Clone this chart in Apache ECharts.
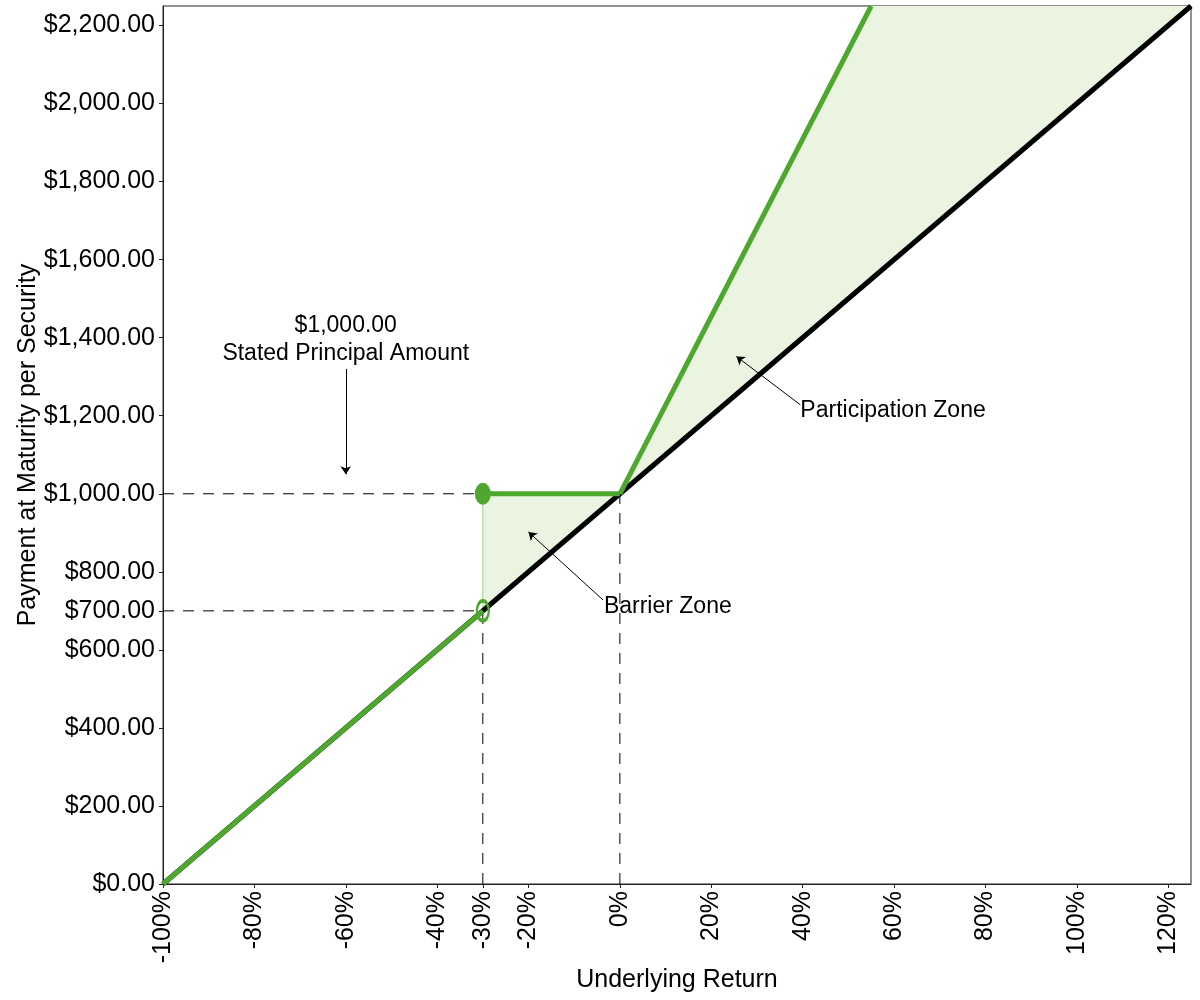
<!DOCTYPE html>
<html>
<head>
    <meta charset="utf-8">
    <title>Payment at Maturity</title>
    <script src="https://cdn.jsdelivr.net/npm/echarts@6/dist/echarts.min.js"></script>
    <style>
        html, body { margin: 0; padding: 0; background: #fff; }
        #container { width: 1200px; height: 1000px; }
    </style>
</head>
<body>
<div id="container"></div>
<script>
    // tick labels
    var xTicks = [-100, -80, -60, -40, -30, -20, 0, 20, 40, 60, 80, 100, 120];
    var yTicks = [0, 200, 400, 600, 700, 800, 1000, 1200, 1400, 1600, 1800, 2000, 2200];

    // underlying (1:1) line
    var underlyingX = [-100, 125];
    var underlyingY = [0, 2250];

    // security payoff pieces
    var downX = [-100, -30];
    var downY = [0, 700];
    var flatX = [-30, 0];
    var flatY = [1000, 1000];
    var upX = [0, 55];
    var upY = [1000, 2250];

    // shaded zones (polygons between payoff and underlying)
    var barrierZoneX = [-30, 0, -30];
    var barrierZoneY = [1000, 1000, 700];
    var partZoneX = [0, 55, 125];
    var partZoneY = [1000, 2250, 2250];

    var green = '#4EA72E';
    var fill = '#EBF3E1';
    var font = 'Liberation Sans, Arial, sans-serif';

    function pairs(xs, ys) {
        var out = [];
        for (var i = 0; i < xs.length; i++) out.push([xs[i], ys[i]]);
        return out;
    }

    var dashed = { type: [11, 9], color: '#000', width: 1 };

    function dashSeries(data) {
        return {
            type: 'line', data: data, showSymbol: false, silent: true, z: 1,
            lineStyle: dashed
        };
    }

    function zoneSeries(xs, ys) {
        return {
            type: 'custom', silent: true, z: 0,
            data: [0],
            renderItem: function (params, api) {
                var pts = pairs(xs, ys).map(function (p) { return api.coord(p); });
                return {
                    type: 'polygon',
                    shape: { points: pts },
                    style: { fill: fill }
                };
            }
        };
    }

    var myChart = echarts.init(document.getElementById('container'));

    var option = {
        animation: false,
        grid: {
            left: 163, right: 9, top: 6, bottom: 116, outerBoundsMode: 'none',
            show: true, borderColor: '#222', borderWidth: 1
        },
        xAxis: {
            type: 'value', min: -100, max: 125,
            name: 'Underlying Return', nameLocation: 'middle', nameGap: 84, nameMoveOverlap: false,
            nameTextStyle: { fontSize: 25, color: '#000', fontFamily: font },
            splitLine: { show: false },
            axisLine: { show: true, onZero: false, lineStyle: { color: '#222' } },
            axisTick: { show: true, customValues: xTicks, length: 4, lineStyle: { color: '#222' } },
            axisLabel: {
                customValues: xTicks, rotate: 90, fontSize: 25, color: '#000', fontFamily: font, margin: 7,
                formatter: function (v) { return v + '%'; }
            }
        },
        yAxis: {
            type: 'value', min: 0, max: 2250,
            name: 'Payment at Maturity per Security', nameLocation: 'middle', nameGap: 122, nameMoveOverlap: false,
            nameTextStyle: { fontSize: 25, color: '#000', fontFamily: font },
            splitLine: { show: false },
            axisLine: { show: true, onZero: false, lineStyle: { color: '#222' } },
            axisTick: { show: true, customValues: yTicks, length: 4, lineStyle: { color: '#222' } },
            axisLabel: {
                customValues: yTicks, fontSize: 25, color: '#000', fontFamily: font, margin: 8,
                formatter: function (v) {
                    return '$' + v.toLocaleString('en-US', { minimumFractionDigits: 2, maximumFractionDigits: 2 });
                }
            }
        },
        series: [
            // shaded zones
            zoneSeries(barrierZoneX, barrierZoneY),
            zoneSeries(partZoneX, partZoneY),
            // dashed guides
            dashSeries([[-100, 1000], [-30, 1000]]),
            dashSeries([[-100, 700], [-30, 700]]),
            dashSeries([[-30, 0], [-30, 700]]),
            dashSeries([[0, 0], [0, 1000]]),
            // thin barrier edge
            {
                type: 'line', data: [[-30, 700], [-30, 1000]], showSymbol: false, silent: true, z: 2,
                lineStyle: { color: '#A9D18E', width: 1 }
            },
            // underlying
            {
                type: 'line', data: pairs(underlyingX, underlyingY), showSymbol: false, z: 3,
                lineStyle: { color: '#000', width: 5 }
            },
            // payoff
            {
                type: 'line', data: pairs(downX, downY), showSymbol: false, z: 4,
                lineStyle: { color: green, width: 5 }
            },
            {
                type: 'line', data: pairs(flatX, flatY), showSymbol: false, z: 4,
                lineStyle: { color: green, width: 5 }
            },
            {
                type: 'line', data: pairs(upX, upY), showSymbol: false, z: 4,
                lineStyle: { color: green, width: 5 }
            },
            // barrier markers
            {
                type: 'scatter', data: [[flatX[0], flatY[0]]], z: 5,
                symbol: 'circle', symbolSize: [16, 22], itemStyle: { color: green, opacity: 1 }
            },
            {
                type: 'scatter', data: [[downX[1], downY[1]]], z: 5,
                symbol: 'circle', symbolSize: [12, 20],
                itemStyle: { color: 'rgba(0,0,0,0)', borderColor: green, borderWidth: 3, opacity: 1 }
            },
            // annotations
            {
                type: 'line', data: [], z: 6, silent: true,
                markLine: {
                    silent: true, symbol: ['none', 'arrow'], symbolSize: 8,
                    lineStyle: { color: '#000', width: 1, type: 'solid' },
                    label: { show: false },
                    data: [
                        [{ coord: [-60, 1320] }, { coord: [-60, 1050] }],
                        [{ coord: [39.5, 1228] }, { coord: [25.5, 1352] }],
                        [{ coord: [-3.7, 728] }, { coord: [-20, 902] }]
                    ]
                }
            },
            {
                type: 'scatter', symbolSize: 0, z: 6, silent: true,
                itemStyle: { opacity: 1 },
                data: [
                    { value: [-60, 1394], name: '$1,000.00\nStated Principal Amount', align: 'center' },
                    { value: [39.5, 1213], name: 'Participation Zone', align: 'left' },
                    { value: [-3.5, 710], name: 'Barrier Zone', align: 'left' }
                ].map(function (d) {
                    return {
                        value: d.value,
                        label: {
                            show: true, position: 'inside', formatter: d.name,
                            align: d.align, verticalAlign: 'middle',
                            fontSize: 23, lineHeight: 28, color: '#000', fontFamily: font
                        }
                    };
                })
            }
        ]
    };

    myChart.setOption(option);
</script>
</body>
</html>
